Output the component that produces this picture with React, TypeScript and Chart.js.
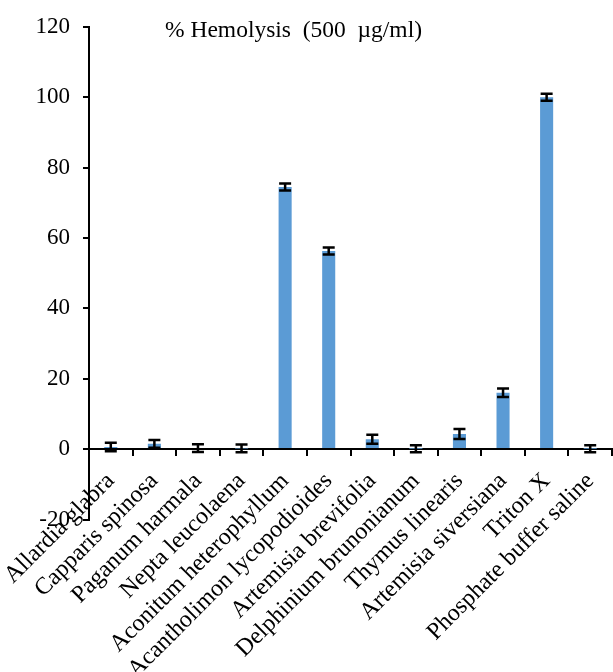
import React, { useEffect, useRef } from "react";
import { Chart, registerables } from "chart.js";

Chart.register(...registerables);

const categories = [
  "Allardia glabra",
  "Capparis spinosa",
  "Paganum harmala",
  "Nepta leucolaena",
  "Aconitum heterophyllum",
  "Acantholimon lycopodioides",
  "Artemisia brevifolia",
  "Delphinium brunonianum",
  "Thymus linearis",
  "Artemisia siversiana",
  "Triton X",
  "Phosphate buffer saline",
];
const hemolysis = [0.6, 1.5, 0.3, 0.2, 74.5, 56.3, 2.8, 0.1, 4.3, 16.0, 100.0, 0.1];
const errors = [1.2, 1.1, 1.1, 1.1, 1.0, 1.0, 1.3, 1.0, 1.4, 1.2, 1.0, 1.0];
const yTicks = [-20, 0, 20, 40, 60, 80, 100, 120];
const titleText = "% Hemolysis  (500  \u00B5g/ml)";

const SERIF = "'Liberation Serif', 'Times New Roman', serif";

const errorBarPlugin = {
  id: "errorBars",
  afterDatasetsDraw(chart: any) {
    const ctx = chart.ctx;
    const meta = chart.getDatasetMeta(0);
    const y = chart.scales.y;
    ctx.save();
    ctx.strokeStyle = "#000";
    ctx.lineWidth = 2.5;
    meta.data.forEach((bar: any, i: number) => {
      const v = hemolysis[i];
      const e = errors[i];
      const yt = y.getPixelForValue(v + e);
      const yb = y.getPixelForValue(v - e);
      const half = 6;
      ctx.beginPath();
      ctx.moveTo(bar.x, yt);
      ctx.lineTo(bar.x, yb);
      ctx.moveTo(bar.x - half, yt);
      ctx.lineTo(bar.x + half, yt);
      ctx.moveTo(bar.x - half, yb);
      ctx.lineTo(bar.x + half, yb);
      ctx.stroke();
    });
    ctx.restore();
  },
};

const titlePlugin = {
  id: "innerTitle",
  afterDraw(chart: any) {
    const ctx = chart.ctx;
    ctx.save();
    ctx.fillStyle = "#000";
    ctx.font = `23.5px ${SERIF}`;
    ctx.textAlign = "left";
    ctx.textBaseline = "alphabetic";
    ctx.fillText(titleText, chart.chartArea.left + 76, chart.chartArea.top + 10);
    ctx.restore();
  },
};

export default function App() {
  const ref = useRef<HTMLCanvasElement>(null);
  useEffect(() => {
    if (!ref.current) return;
    const chart = new Chart(ref.current, {
      type: "bar",
      data: {
        labels: categories,
        datasets: [
          {
            data: hemolysis,
            backgroundColor: "#5B9BD5",
            barPercentage: 0.3,
            categoryPercentage: 1,
          },
        ],
      },
      options: {
        responsive: false,
        animation: false,
        layout: { padding: { left: 0, top: 26, right: 1, bottom: 152.5 } },
        plugins: {
          legend: { display: false },
          tooltip: { enabled: false },
          title: { display: false },
        },
        scales: {
          x: {
            position: { y: 0 } as any,
            afterFit: (s: any) => {
              s.height = 0;
              s.paddingLeft = 0;
              s.paddingRight = 0;
            },
            grid: {
              drawOnChartArea: false,
              drawTicks: true,
              tickLength: 6,
              color: "#000",
              lineWidth: 2,
              offset: true,
            },
            border: { display: true, color: "#000", width: 2 },
            ticks: {
              autoSkip: false,
              maxRotation: 45,
              minRotation: 45,
              padding: 12,
              labelOffset: 0,
              color: "#000",
              font: { family: SERIF, size: 24 },
            },
          },
          y: {
            min: -20,
            max: 120,
            afterFit: (s: any) => {
              s.width = 89;
            },
            afterBuildTicks: (s: any) => {
              s.ticks = yTicks.map((v) => ({ value: v }));
            },
            grid: {
              drawOnChartArea: false,
              drawTicks: true,
              tickLength: 6,
              color: "#000",
              lineWidth: 2,
            },
            border: { display: true, color: "#000", width: 2 },
            ticks: {
              padding: 13,
              color: "#000",
              font: { family: SERIF, size: 23 },
            },
          },
        },
      },
      plugins: [errorBarPlugin, titlePlugin],
    });
    return () => chart.destroy();
  }, []);
  return (
    <div style={{ position: "absolute", left: 0, top: 0, width: 613, height: 672, background: "#fff" }}>
      <canvas ref={ref} width={613} height={672} style={{ width: 613, height: 672, display: "block" }} />
    </div>
  );
}
